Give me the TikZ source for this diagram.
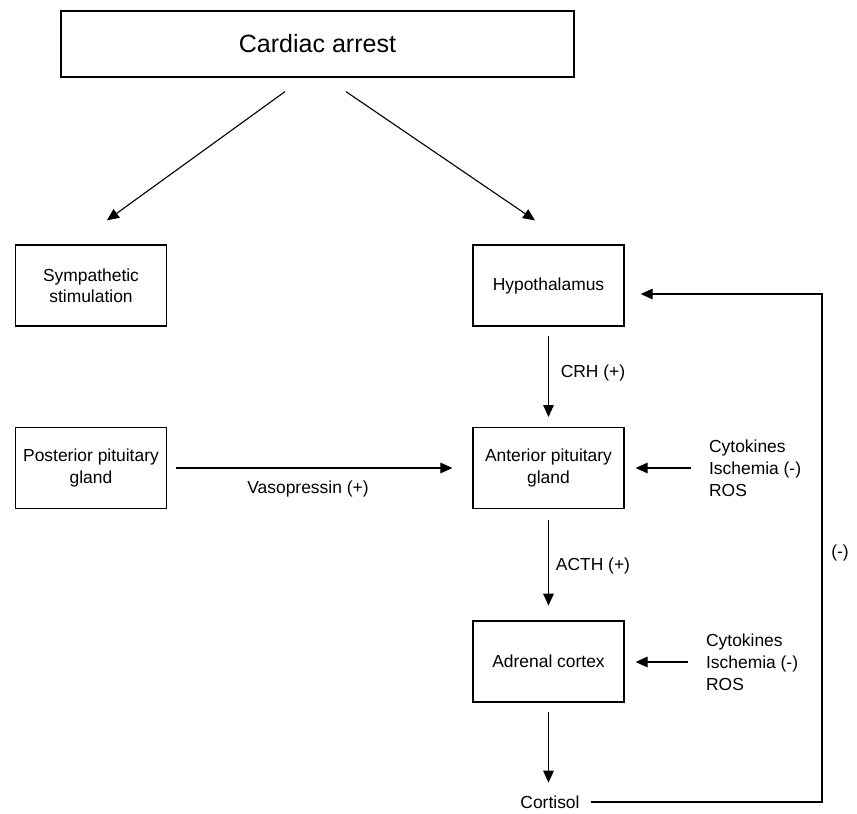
\documentclass[tikz,border=0pt]{standalone}
\usepackage{fontspec}
\setmainfont{Liberation Sans}
\usetikzlibrary{arrows.meta,calc}

\begin{document}
\begin{tikzpicture}[x=0.025cm,y=-0.025cm,>={Triangle[length=8.5pt,width=7.5pt]},
  box/.style={draw,line width=0.9pt,minimum width=3.775cm,minimum height=2.025cm,
    align=center,font=\fontsize{12.4}{15}\selectfont},
  txt/.style={inner sep=2pt,align=left,font=\fontsize{12.4}{15.6}\selectfont},
  arr/.style={->,line width=0.8pt}]
  \useasboundingbox (0,0) rectangle (857,814);
  \node[draw,line width=0.9pt,minimum width=12.825cm,minimum height=1.65cm,
    font=\fontsize{17.8}{21}\selectfont] (arrest) at (317.5,44) {Cardiac arrest};
  \node[box] (symp) at (91,285.5) {Sympathetic\\stimulation};
  \node[box] (hypo) at (548.5,285.5) {Hypothalamus};
  \node[box] (post) at (91,468) {Posterior pituitary\\gland};
  \node[box] (ant) at (548.5,468) {Anterior pituitary\\gland};
  \node[box] (adr) at (548.5,661.5) {Adrenal cortex};
  \node[txt] (cort) at (550,802) {Cortisol};
  % cardiac arrest branches
  \draw[arr] ($(arrest.south)+(-32.5,14)$) -- ($(symp.north)+(16,-24)$);
  \draw[arr] ($(arrest.south)+(28.5,14)$) -- ($(hypo.north)+(-13.5,-24)$);
  % axis
  \draw[arr,shorten <=7pt,shorten >=7pt] (hypo.south) -- (ant.north);
  \node[txt] (crh) at (593,373) {CRH (+)};
  \draw[arr,shorten <=7.8pt,shorten >=10.5pt] (ant.south) -- (adr.north);
  \node[txt] (acth) at (593,566) {ACTH (+)};
  \draw[arr,shorten <=7pt,shorten >=7pt] (adr.south) -- (adr.south |- cort.north);
  \draw[arr,shorten <=6.4pt,shorten >=14.2pt] (post.east) -- (ant.west);
  \node[txt] (vaso) at (308,489) {Vasopressin (+)};
  \foreach \n/\tgt/\x/\y in {cytoA/ant/706/468,cytoB/adr/703/662} {
    \node[txt,anchor=west] (\n) at (\x,\y) {Cytokines\\Ischemia (-)\\ROS};
    \draw[arr,shorten <=10.5pt,shorten >=7.8pt] (\n.west) -- (\n.west -| \tgt.east);
  }
  % cortisol feedback
  \coordinate (fb) at (822,294);
  \draw[arr,shorten <=5.7pt,shorten >=11.4pt] (cort.east) -- (cort.east -| fb) -- (fb) -- (fb -| hypo.east);
  \node[txt] (neg) at (840,553) {(-)};
\end{tikzpicture}
\end{document}
